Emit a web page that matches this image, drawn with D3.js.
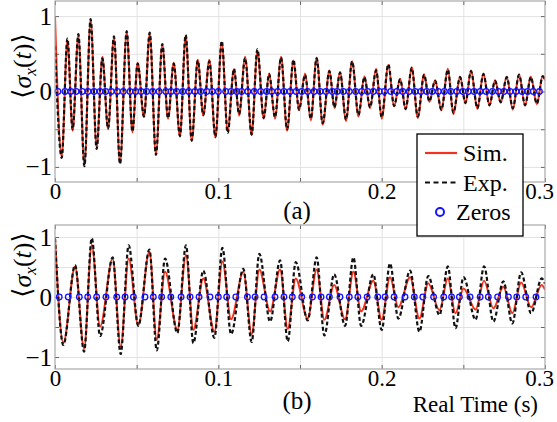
<!DOCTYPE html>
<html>
<head>
<meta charset="utf-8">
<script src="https://cdn.jsdelivr.net/npm/d3@7"></script>
<style>
  body { margin: 0; background: #fff; }
  svg { display: block; }
  .serif { font-family: "Liberation Serif", "DejaVu Serif", serif; }
</style>
</head>
<body>
<div id="chart"></div>
<script>
// extrema of the traces (time in s)
let tA = [0, 0.0041, 0.0076, 0.0108, 0.0143, 0.0180, 0.0218, 0.0255, 0.0290, 0.0325, 0.0361, 0.0398, 0.0439, 0.0474,
  0.0506, 0.0545, 0.0580, 0.0618, 0.0657, 0.0692, 0.0727, 0.0765, 0.0800, 0.0837, 0.0874, 0.0908, 0.0945, 0.0982,
  0.1021, 0.1057, 0.1096, 0.1127, 0.1164, 0.1204, 0.1239, 0.1278, 0.1311, 0.1347, 0.1384, 0.1421, 0.1460, 0.1494,
  0.1531, 0.1566, 0.1602, 0.1639, 0.1680, 0.1711, 0.1745, 0.1782, 0.1819, 0.1858, 0.1894, 0.1929, 0.1966, 0.2000,
  0.2041, 0.2076, 0.2113, 0.2147, 0.2184, 0.2221, 0.2260, 0.2292, 0.2327, 0.2366, 0.2405, 0.2439, 0.2480, 0.2513,
  0.2547, 0.2586, 0.2623, 0.2660, 0.2694, 0.2729, 0.2766, 0.2803, 0.2841, 0.2878, 0.2913, 0.2950, 0.2986, 0.3000];

let simA = [1.00, -0.87, 0.68, -0.52, 0.74, -0.98, 0.95, -0.74, 0.46, -0.50, 0.72, -0.95, 0.79, -0.54,
  0.38, -0.34, 0.77, -0.83, 0.62, -0.36, 0.38, -0.60, 0.74, -0.66, 0.42, -0.32, 0.42, -0.61,
  0.65, -0.52, 0.30, -0.32, 0.46, -0.58, 0.54, -0.36, 0.24, -0.36, 0.46, -0.52, 0.41, -0.25,
  0.24, -0.38, 0.45, -0.44, 0.28, -0.22, 0.26, -0.39, 0.40, -0.33, 0.20, -0.22, 0.30, -0.36,
  0.35, -0.20, 0.17, -0.24, 0.32, -0.35, 0.23, -0.14, 0.15, -0.25, 0.30, -0.30, 0.20, -0.16,
  0.28, -0.23, 0.24, -0.19, 0.15, -0.15, 0.20, -0.24, 0.23, -0.19, 0.20, -0.17, 0.21, 0.15];

let expA = [0.60, -0.88, 0.70, -0.50, 0.76, -0.99, 0.96, -0.76, 0.44, -0.49, 0.73, -0.96, 0.80, -0.53,
  0.37, -0.33, 0.78, -0.84, 0.63, -0.35, 0.37, -0.59, 0.75, -0.65, 0.41, -0.31, 0.40, -0.60,
  0.67, -0.55, 0.30, -0.30, 0.44, -0.57, 0.56, -0.35, 0.23, -0.34, 0.45, -0.50, 0.42, -0.24,
  0.22, -0.36, 0.44, -0.42, 0.27, -0.21, 0.25, -0.37, 0.40, -0.31, 0.19, -0.21, 0.28, -0.34,
  0.36, -0.19, 0.16, -0.23, 0.31, -0.33, 0.22, -0.13, 0.14, -0.24, 0.29, -0.28, 0.19, -0.15,
  0.27, -0.22, 0.23, -0.18, 0.14, -0.14, 0.19, -0.22, 0.22, -0.18, 0.19, -0.16, 0.20, 0.16];

let zerosA = [0.0018, 0.0061, 0.0096, 0.0129, 0.0167, 0.0202, 0.0239, 0.0276, 0.0310, 0.0345, 0.0382, 0.0418, 0.0459,
  0.0494, 0.0527, 0.0561, 0.0598, 0.0637, 0.0678, 0.0710, 0.0745, 0.0782, 0.0819, 0.0857, 0.0892, 0.0929, 0.0963,
  0.1000, 0.1045, 0.1078, 0.1113, 0.1143, 0.1180, 0.1220, 0.1259, 0.1296, 0.1327, 0.1364, 0.1402, 0.1439, 0.1476,
  0.1511, 0.1547, 0.1586, 0.1623, 0.1659, 0.1698, 0.1728, 0.1765, 0.1802, 0.1841, 0.1878, 0.1914, 0.1949, 0.1986,
  0.2017, 0.2056, 0.2093, 0.2129, 0.2168, 0.2205, 0.2240, 0.2276, 0.2310, 0.2347, 0.2384, 0.2423, 0.2460, 0.2497,
  0.2531, 0.2566, 0.2603, 0.2639, 0.2678, 0.2715, 0.2749, 0.2786, 0.2823, 0.2859, 0.2894, 0.2928, 0.2966];

let tB = [0, 0.0051, 0.0123, 0.0178, 0.0225, 0.0276, 0.0353, 0.0402, 0.0451, 0.0510, 0.0578, 0.0623, 0.0674,
  0.0749, 0.0802, 0.0847, 0.0908, 0.0976,
  0.1025, 0.1078, 0.1153, 0.1204, 0.1251, 0.1317, 0.1378, 0.1425, 0.1474, 0.1547, 0.1602, 0.1649, 0.1709,
  0.1776, 0.1827, 0.1874, 0.1949, 0.2000,
  0.2051, 0.2102, 0.2174, 0.2231, 0.2285, 0.2354, 0.2405, 0.2452, 0.2501, 0.2575, 0.2627, 0.2684, 0.2745,
  0.2800, 0.2854, 0.2915, 0.2980, 0.3000];

let simB = [0.98, -0.77, 0.51, -0.86, 0.87, -0.49, 0.64, -0.83, 0.64, -0.47, 0.76, -0.71, 0.42,
  -0.55, 0.70, -0.55, 0.31, -0.58,
  0.59, -0.37, 0.42, -0.62, 0.46, -0.24, 0.46, -0.53, 0.31, -0.36, 0.46, -0.38, 0.20,
  -0.37, 0.42, -0.24, 0.27, -0.38,
  0.33, -0.17, 0.33, -0.36, 0.23, -0.22, 0.31, -0.27, 0.14, -0.21, 0.27, -0.19, 0.17,
  -0.27, 0.24, -0.17, 0.20, 0.12];

let expB = [0.98, -0.80, 0.53, -0.91, 0.98, -0.65, 0.66, -0.95, 0.86, -0.48, 0.79, -0.89, 0.64,
  -0.60, 0.86, -0.77, 0.44, -0.68,
  0.82, -0.62, 0.47, -0.75, 0.72, -0.41, 0.61, -0.74, 0.58, -0.39, 0.66, -0.64, 0.38,
  -0.48, 0.66, -0.48, 0.38, -0.55,
  0.56, -0.36, 0.44, -0.58, 0.35, -0.30, 0.51, -0.52, 0.33, -0.38, 0.51, -0.41, 0.26,
  -0.44, 0.41, -0.27, 0.31, 0.22];

let zerosB = [0.0026, 0.0081, 0.0149, 0.0200, 0.0255, 0.0312, 0.0378, 0.0429, 0.0480, 0.0551, 0.0602, 0.0653,
  0.0709, 0.0772, 0.0827, 0.0882, 0.0949, 0.1000,
  0.1051, 0.1107, 0.1178, 0.1225, 0.1280, 0.1347, 0.1402, 0.1453, 0.1511, 0.1576, 0.1629, 0.1680, 0.1745,
  0.1802, 0.1854, 0.1911, 0.1976,
  0.2021, 0.2076, 0.2143, 0.2200, 0.2252, 0.2318, 0.2380, 0.2428, 0.2476, 0.2541, 0.2603, 0.2653, 0.2710,
  0.2776, 0.2827, 0.2882, 0.2945];

let xTicks = [0, 0.1, 0.2, 0.3];
let yTicks = [-1, 0, 1];
let xGrid = [0.05, 0.1, 0.15, 0.2, 0.25];
let yGrid = [-1, -0.5, 0, 0.5, 1];
let legendLabels = ["Sim.", "Exp.", "Zeros"];

let red = "#f0321e", blue = "#1414ff";

let svg = d3.select("#chart").append("svg").attr("width", 557).attr("height", 422);

let x = d3.scaleLinear().domain([0, 0.3]).range([55, 545]);

let panels = [
  {t: tA, sim: simA, exp: expA, zeros: zerosA, top: 1, bottom: 182, tag: "(a)", tagY: 219, labY: 66},
  {t: tB, sim: simB, exp: expB, zeros: zerosB, top: 225, bottom: 369, tag: "(b)", tagY: 409, labY: 265}
];

panels.forEach(function(p, i) {
  let y = d3.scaleLinear().domain([-1.2, 1.2]).range([p.bottom, p.top]);
  let g = svg.append("g");
  let w = x.range()[1] - x.range()[0], h = p.bottom - p.top;

  // grid
  g.append("g").attr("transform", `translate(0,${p.bottom})`)
    .call(d3.axisBottom(x).tickValues(xGrid).tickSize(-h).tickFormat(""))
    .call(s => s.select(".domain").remove())
    .selectAll("line").attr("stroke", "#e2e2e2");
  g.append("g").attr("transform", `translate(${x.range()[0]},0)`)
    .call(d3.axisLeft(y).tickValues(yGrid).tickSize(-w).tickFormat(""))
    .call(s => s.select(".domain").remove())
    .selectAll("line").attr("stroke", "#e2e2e2");

  // inner ticks on all four sides
  let xt = d3.range(0, 7).map(k => k * 0.05);
  [[d3.axisBottom(x), p.bottom], [d3.axisTop(x), p.top]].forEach(function(a) {
    g.append("g").attr("transform", `translate(0,${a[1]})`)
      .call(a[0].tickValues(xt).tickSize(-4).tickFormat(""))
      .call(s => s.select(".domain").remove())
      .selectAll("line").attr("stroke", "#666");
  });
  [[d3.axisLeft(y), x.range()[0]], [d3.axisRight(y), x.range()[1]]].forEach(function(a) {
    g.append("g").attr("transform", `translate(${a[1]},0)`)
      .call(a[0].tickValues(yGrid).tickSize(-4).tickFormat(""))
      .call(s => s.select(".domain").remove())
      .selectAll("line").attr("stroke", "#666");
  });

  let clipId = "clip" + i;
  svg.append("clipPath").attr("id", clipId).append("rect")
    .attr("x", x.range()[0]).attr("y", p.top).attr("width", w).attr("height", h);

  let line = d3.line().x(d => x(d[0])).y(d => y(d[1])).curve(d3.curveMonotoneX);

  g.append("path").datum(p.t.map((t, k) => [t, p.sim[k]]))
    .attr("clip-path", `url(#${clipId})`)
    .attr("fill", "none").attr("stroke", red).attr("stroke-width", 2)
    .attr("d", line);

  g.append("path").datum(p.t.map((t, k) => [t, p.exp[k]]))
    .attr("clip-path", `url(#${clipId})`)
    .attr("fill", "none").attr("stroke", "#111").attr("stroke-width", 2.2)
    .attr("stroke-dasharray", "4,2.5")
    .attr("d", line);

  g.append("g").selectAll("circle").data(p.zeros).join("circle")
    .attr("cx", d => x(d)).attr("cy", y(0)).attr("r", 2.8)
    .attr("fill", "none").attr("stroke", blue).attr("stroke-width", 1.3);

  // box
  g.append("rect").attr("x", x.range()[0]).attr("y", p.top).attr("width", w).attr("height", h)
    .attr("fill", "none").attr("stroke", "#a8a8a8").attr("stroke-width", 1.2);

  // tick labels
  let xa = g.append("g").attr("transform", `translate(0,${p.bottom})`)
    .call(d3.axisBottom(x).tickValues(xTicks).tickSize(0).tickPadding(1)
      .tickFormat(d => d === 0 ? "0" : d3.format(".1f")(d)));
  xa.select(".domain").remove();
  xa.selectAll("text").attr("class", "serif").attr("font-size", 23).attr("fill", "#000")
    .attr("dx", d => d === 0.3 ? -6 : 0);

  let ya = g.append("g").attr("transform", `translate(${x.range()[0] - 3},0)`)
    .call(d3.axisLeft(y).tickValues(yTicks).tickSize(0).tickPadding(0).tickFormat(d3.format("d")));
  ya.select(".domain").remove();
  ya.selectAll("text").attr("class", "serif").attr("font-size", 25).attr("fill", "#000");

  // y label
  let lab = svg.append("text").attr("class", "serif").attr("font-size", 26)
    .attr("text-anchor", "middle")
    .attr("transform", `translate(31,${p.labY}) rotate(-90)`);
  lab.append("tspan").text("\u27E8");
  lab.append("tspan").attr("font-style", "italic").text("\u03C3");
  lab.append("tspan").attr("font-style", "italic").attr("font-size", 17).attr("dy", 5).text("x");
  lab.append("tspan").attr("dy", -5).text("(");
  lab.append("tspan").attr("font-style", "italic").text("t");
  lab.append("tspan").text(")\u27E9");

  svg.append("text").attr("class", "serif").attr("font-size", 25)
    .attr("x", 297).attr("y", p.tagY).attr("text-anchor", "middle").text(p.tag);
});

svg.append("text").attr("class", "serif").attr("font-size", 23)
  .attr("x", 538).attr("y", 412).attr("text-anchor", "end").text("Real Time (s)");

// legend
let lg = svg.append("g");
lg.append("rect").attr("x", 417).attr("y", 134).attr("width", 106).attr("height", 102)
  .attr("fill", "#fff").attr("stroke", "#000").attr("stroke-width", 1.3);

let rows = lg.selectAll("g.row").data(legendLabels).join("g").attr("class", "row")
  .attr("transform", (d, i) => `translate(0,${153 + i * 29.5})`);

rows.filter((d, i) => i < 2).append("line")
  .attr("x1", 425).attr("x2", 457).attr("y1", 0).attr("y2", 0)
  .attr("stroke", (d, i) => i === 0 ? red : "#111").attr("stroke-width", 2.2)
  .attr("stroke-dasharray", (d, i) => i === 0 ? null : "5,3.5");
rows.filter((d, i) => i === 2).append("circle")
  .attr("cx", 440).attr("cy", 0).attr("r", 4).attr("fill", "none")
  .attr("stroke", blue).attr("stroke-width", 2);
rows.append("text").attr("class", "serif").attr("font-size", 24)
  .attr("x", (d, i) => i === 2 ? 456 : 463).attr("y", 8).text(d => d);
</script>
</body>
</html>
